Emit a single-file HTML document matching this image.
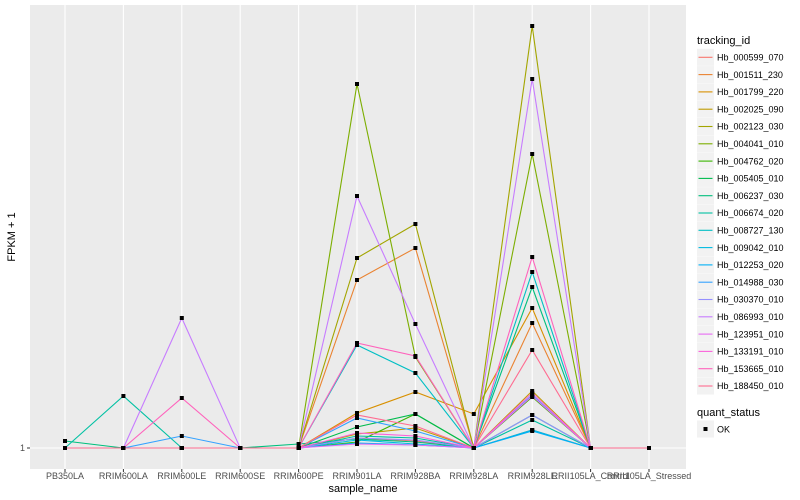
<!DOCTYPE html>
<html><head><meta charset="utf-8"><style>
body{margin:0;background:#fff;}
svg{display:block;font-family:"Liberation Sans",sans-serif;}
</style></head><body>
<svg id="chart" width="800" height="500">
<rect x="30" y="5" width="656" height="464" fill="#ebebeb"/>
<g id="grid"></g><g id="lines"></g><g id="points"></g><g id="axes"></g><g id="legend"></g>
<text x="363" y="492" font-size="11" text-anchor="middle" fill="#000">sample_name</text>
<text x="15" y="237" font-size="11" text-anchor="middle" fill="#000" transform="rotate(-90 15 237)">FPKM + 1</text>
</svg>
<script>
const categories=["PB350LA","RRIM600LA","RRIM600LE","RRIM600SE","RRIM600PE","RRIM901LA","RRIM928BA","RRIM928LA","RRIM928LE","RRII105LA_Control","RRII105LA_Stressed"];
const seriesNames=["Hb_000599_070","Hb_001511_230","Hb_001799_220","Hb_002025_090","Hb_002123_030","Hb_004041_010","Hb_004762_020","Hb_005405_010","Hb_006237_030","Hb_006674_020","Hb_008727_130","Hb_009042_010","Hb_012253_020","Hb_014988_030","Hb_030370_010","Hb_086993_010","Hb_123951_010","Hb_133191_010","Hb_153665_010","Hb_188450_010"];
const seriesColors=["#F8766D","#EA8331","#D89000","#C09B00","#A3A500","#7CAE00","#39B600","#00BB4E","#00BF7D","#00C1A3","#00BFC4","#00BAE0","#00B0F6","#35A2FF","#9590FF","#C77CFF","#E76BF3","#FA62DB","#FF62BC","#FF6C91"];
const s0=[1,1,1,1,1,11,8,1,19,1,1];
const s1=[1,1,1,1,1,169,201,1,126,1,1];
const s2=[1,1,1,1,1,36,57,35,141,1,1];
const s3=[1,1,1,1,1,15,21,1,58,1,1];
const s4=[1,1,1,1,1,191,225,1,423,1,1];
const s5=[1,1,1,1,1,365,92,1,295,1,1];
const s6=[1,1,1,1,1,7,35,1,52,1,1];
const s7=[1,1,1,1,1,22,35,1,34,1,1];
const s8=[8,1,1,1,5,10,7,1,162,1,1];
const s9=[1,53,1,1,1,13,11,1,29,1,1];
const s10=[1,1,1,1,1,104,76,1,177,1,1];
const s11=[1,1,1,1,1,9,5,1,19,1,1];
const s12=[1,1,1,1,1,6,4,1,18,1,1];
const s13=[1,1,13,1,1,31,18,1,54,1,1];
const s14=[1,1,1,1,1,11,9,1,34,1,1];
const s15=[1,1,131,1,1,253,125,1,370,1,1];
const s16=[1,1,1,1,1,5,4,1,53,1,1];
const s17=[1,1,1,1,1,16,13,1,56,1,1];
const s18=[1,1,51,1,1,106,93,1,192,1,1];
const s19=[1,1,1,1,1,34,23,1,99,1,1];
const yTicks=[1];
const series=[s0,s1,s2,s3,s4,s5,s6,s7,s8,s9,s10,s11,s12,s13,s14,s15,s16,s17,s18,s19];
const NS="http://www.w3.org/2000/svg";
function xPos(i){return 65+i*58.4;}
function yPos(v){return 448-(v-1)*1.0;}
function mk(tag,attrs,parent){const e=document.createElementNS(NS,tag);for(const k in attrs)e.setAttribute(k,attrs[k]);parent.appendChild(e);return e;}
const grid=document.getElementById('grid'),lines=document.getElementById('lines'),pts=document.getElementById('points'),axes=document.getElementById('axes'),leg=document.getElementById('legend');
yTicks.forEach(t=>{
 const g=mk('line',{x1:30,x2:686,y1:yPos(t),y2:yPos(t),stroke:'#fff','stroke-width':1.1},grid);
 
 
 const tk=mk('line',{x1:27,x2:30,y1:yPos(t),y2:yPos(t),stroke:'#333','stroke-width':1},axes);
 
 
 const tx=mk('text',{x:25,y:yPos(t)+3,'font-size':9,'text-anchor':'end',fill:'#4d4d4d'},axes);
 tx.textContent=t;
 
 
});
categories.forEach((c,i)=>{
 const g=mk('line',{x1:xPos(i),x2:xPos(i),y1:5,y2:469,stroke:'#fff','stroke-width':1.1},grid);
 
 
 const tk=mk('line',{x1:xPos(i),x2:xPos(i),y1:469,y2:472,stroke:'#333','stroke-width':1},axes);
 
 
 const tx=mk('text',{x:xPos(i),y:479,'font-size':9,'text-anchor':'middle',fill:'#4d4d4d'},axes);
 tx.textContent=c;
 
 
});
series.forEach((s,k)=>{
 const d=s.map((v,i)=>(i?'L':'M')+xPos(i).toFixed(1)+' '+yPos(v).toFixed(1)).join(' ');
 const p=mk('path',{d:d,fill:'none',stroke:seriesColors[k],'stroke-width':1.1},lines);
 
 
});
series.forEach((s,k)=>{
 s.forEach((v,i)=>{
  const r=mk('rect',{x:xPos(i)-2,y:yPos(v)-2,width:4,height:4,fill:'#000'},pts);
  
  
 });
});
const lt=mk('text',{x:697,y:44,'font-size':11,fill:'#000'},leg);
lt.textContent='tracking_id';


seriesNames.forEach((n,k)=>{
 const cy=57.3+k*17.3;
 const g=mk('g',{},leg);
 
 
 mk('rect',{x:697,y:cy-8.5,width:17,height:17,fill:'#f2f2f2'},g);
 mk('line',{x1:698.5,x2:712.5,y1:cy,y2:cy,stroke:seriesColors[k],'stroke-width':1.1},g);
 const t=mk('text',{x:717,y:cy+3.2,'font-size':9,fill:'#000'},g);
 t.textContent=n;
});
const qt=mk('text',{x:697,y:416,'font-size':11,fill:'#000'},leg);
qt.textContent='quant_status';


const qg=mk('g',{},leg);


mk('rect',{x:697,y:420.5,width:17,height:17,fill:'#f2f2f2'},qg);
mk('rect',{x:703.5,y:427,width:4,height:4,fill:'#000'},qg);
const ot=mk('text',{x:717,y:432.5,'font-size':9,fill:'#000'},qg);
ot.textContent='OK';
</script>
</body></html>
